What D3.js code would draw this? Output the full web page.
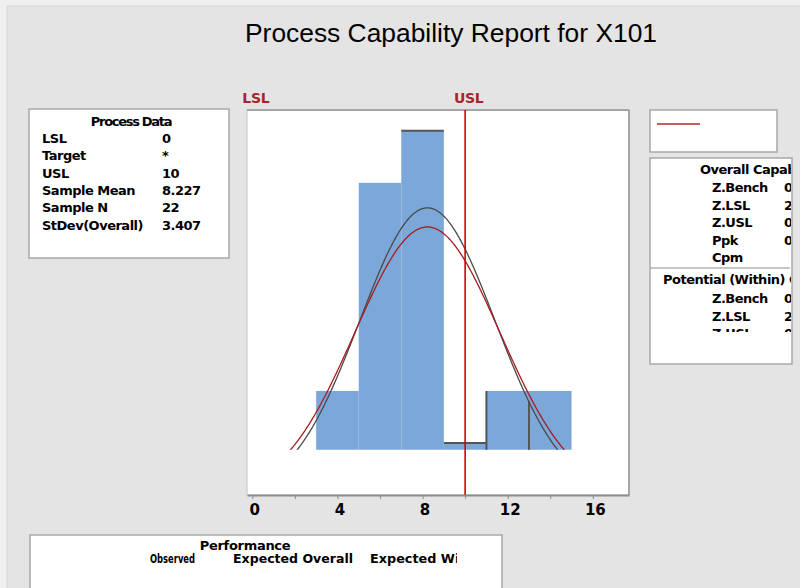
<!DOCTYPE html>
<html>
<head>
<meta charset="utf-8">
<script src="https://cdn.jsdelivr.net/npm/d3@7"></script>
<style>
body { margin: 0; background: #e4e4e4; }
text { font-family: "DejaVu Sans", sans-serif; font-weight: bold; fill: #000; }
text.title { font-family: "Liberation Sans", Arial, sans-serif; font-weight: normal; }
</style>
</head>
<body>
<div class="chart"></div>
<script>
// process data
var lsl = 0, usl = 10;
var sampleMean = 8.227, sampleN = 22, stdevOverall = 3.407, stdevWithin = 3.18;

// histogram
var binEdges = [3, 5, 7, 9, 11, 13, 15];
var binCounts = [2, 6, 7, 1, 2, 2];
var xTicks = [0, 2, 4, 6, 8, 10, 12, 14, 16];
var xLabels = [0, 4, 8, 12, 16];

// tables
var processLabels = ["LSL", "Target", "USL", "Sample Mean", "Sample N", "StDev(Overall)"];
var processValues = ["0", "*", "10", "8.227", "22", "3.407"];
var overallLabels = ["Z.Bench", "Z.LSL", "Z.USL", "Ppk", "Cpm"];
var overallValues = ["0.50", "2.41", "0.52", "0.17", "*"];
var withinLabels = ["Z.Bench", "Z.LSL", "Z.USL", "Cpk"];
var withinValues = ["0.55", "2.59", "0.56", "0.19"];
var perfHeaders = ["Observed", "Expected Overall", "Expected Within"];

var W = 800, H = 588;
var svg = d3.select("div.chart").append("svg")
	.attr("width", W)
	.attr("height", H);

var defs = svg.append("defs");

// background
svg.append("rect").attr("width", W).attr("height", H).attr("fill", "#efefef");
svg.append("rect").attr("x", 7).attr("y", 6).attr("width", W).attr("height", H)
	.attr("fill", "#e4e4e4").attr("stroke", "#d6d6d6");

// title
svg.append("text")
	.attr("class", "title")
	.attr("x", 451).attr("y", 42)
	.attr("text-anchor", "middle")
	.attr("font-size", 26)
	.attr("textLength", 412)
	.attr("lengthAdjust", "spacingAndGlyphs")
	.text("Process Capability Report for X101");

// plot frame
var px0 = 247, px1 = 629, py0 = 110, py1 = 495;
svg.append("rect")
	.attr("x", px0).attr("y", py0)
	.attr("width", px1 - px0).attr("height", py1 - py0)
	.attr("fill", "#fff").attr("stroke", "#c4c4c4");
svg.append("line").attr("x1", px0).attr("x2", px1).attr("y1", py0).attr("y2", py0)
	.attr("stroke", "#a6a6a6").attr("stroke-width", 2);
svg.append("line").attr("x1", px1).attr("x2", px1).attr("y1", py0).attr("y2", py1)
	.attr("stroke", "#a6a6a6").attr("stroke-width", 2);

var x = d3.scaleLinear().domain([-0.25, 17.7]).range([px0, px1]);
var y = d3.scaleLinear().domain([0, 7.4]).range([py1, py0]);

// histogram and fits are cut off above the axis
var floorCount = 0.87;
defs.append("clipPath").attr("id", "histClip")
	.append("rect")
	.attr("x", px0).attr("y", py0)
	.attr("width", px1 - px0).attr("height", y(floorCount) - py0);

var hist = svg.append("g").attr("clip-path", "url(#histClip)");

var bins = binCounts.map(function(c, i) {
	return { x0: binEdges[i], x1: binEdges[i + 1], count: c };
});

hist.selectAll("rect.bar")
	.data(bins)
	.enter()
	.append("rect")
	.attr("class", "bar")
	.attr("x", function(d) { return x(d.x0); })
	.attr("width", function(d) { return x(d.x1) - x(d.x0); })
	.attr("y", function(d) { return y(d.count); })
	.attr("height", function(d) { return y(0) - y(d.count); })
	.attr("fill", "#7ca7d9");

// dark outline pieces
var outlineTops = [2, 3];
var outlineLefts = [4, 5];
hist.selectAll("line.top")
	.data(outlineTops)
	.enter()
	.append("line")
	.attr("x1", function(i) { return x(bins[i].x0); })
	.attr("x2", function(i) { return x(bins[i].x1); })
	.attr("y1", function(i) { return y(bins[i].count); })
	.attr("y2", function(i) { return y(bins[i].count); })
	.attr("stroke", "#555").attr("stroke-width", 2);
hist.selectAll("line.left")
	.data(outlineLefts)
	.enter()
	.append("line")
	.attr("x1", function(i) { return x(bins[i].x0); })
	.attr("x2", function(i) { return x(bins[i].x0); })
	.attr("y1", function(i) { return y(Math.min(bins[i].count, bins[i - 1].count) > 1 ? 1.8 : bins[i].count); })
	.attr("y2", y(0))
	.attr("stroke", "#555").attr("stroke-width", 2);

// fitted normal curves (expected counts per bin)
var binW = binEdges[1] - binEdges[0];
function normalCurve(sd) {
	return d3.range(0, 17.01, 0.05).map(function(v) {
		var z = (v - sampleMean) / sd;
		return [v, sampleN * binW * Math.exp(-0.5 * z * z) / (sd * Math.sqrt(2 * Math.PI))];
	});
}
var line = d3.line()
	.x(function(d) { return x(d[0]); })
	.y(function(d) { return y(d[1]); });

hist.append("path")
	.datum(normalCurve(stdevWithin))
	.attr("d", line)
	.attr("fill", "none")
	.attr("stroke", "#4a4a4a")
	.attr("stroke-width", 1.3);
hist.append("path")
	.datum(normalCurve(stdevOverall))
	.attr("d", line)
	.attr("fill", "none")
	.attr("stroke", "#a81c1c")
	.attr("stroke-width", 1.3);

// USL reference line
svg.append("line")
	.attr("x1", x(usl)).attr("x2", x(usl))
	.attr("y1", py0).attr("y2", py1)
	.attr("stroke", "#d40000").attr("stroke-width", 1.6);

// spec labels
svg.selectAll("text.spec")
	.data([["LSL", lsl], ["USL", usl]])
	.enter()
	.append("text")
	.attr("class", "spec")
	.attr("x", function(d) { return x(d[1]) + 3.5; })
	.attr("y", 103)
	.attr("text-anchor", "middle")
	.attr("font-size", 14)
	.attr("letter-spacing", -0.3)
	.style("fill", "#a8262a")
	.text(function(d) { return d[0]; });

// x axis
var axis = d3.axisBottom(x)
	.tickValues(xTicks)
	.tickSize(4)
	.tickPadding(5)
	.tickSizeOuter(0)
	.tickFormat(function(d) { return xLabels.indexOf(d) >= 0 ? d : ""; });
var ax = svg.append("g")
	.attr("transform", "translate(0," + py1 + ")")
	.call(axis);
ax.select(".domain").attr("stroke", "#8c8c8c").attr("stroke-width", 2);
ax.selectAll(".tick line").attr("stroke", "#8c8c8c");
ax.selectAll(".tick text")
	.attr("font-size", 15)
	.attr("font-family", "DejaVu Sans, sans-serif")
	.attr("font-weight", "bold")
	.attr("dx", 2)
	.style("fill", "#000");

// Process Data box
function box(x0, y0, w, h) {
	svg.append("rect")
		.attr("x", x0).attr("y", y0).attr("width", w).attr("height", h)
		.attr("fill", "#fff").attr("stroke", "#a8a8a8").attr("stroke-width", 1.5);
}
box(29, 109, 200, 149);
svg.append("text")
	.attr("x", 131).attr("y", 126)
	.attr("text-anchor", "middle")
	.attr("font-size", 13)
	.attr("letter-spacing", -1.3)
	.text("Process Data");
var pRows = svg.append("g").attr("font-size", 13).attr("letter-spacing", -0.5);
pRows.selectAll("text.lab")
	.data(processLabels)
	.enter()
	.append("text")
	.attr("x", 42)
	.attr("y", function(d, i) { return 143 + i * 17.3; })
	.text(function(d) { return d; });
pRows.selectAll("text.val")
	.data(processValues)
	.enter()
	.append("text")
	.attr("x", 162)
	.attr("y", function(d, i) { return 143 + i * 17.3; })
	.text(function(d) { return d; });

// legend box
box(650, 110, 127, 42);
svg.append("line")
	.attr("x1", 657).attr("x2", 700).attr("y1", 124).attr("y2", 124)
	.attr("stroke", "#b02a2a").attr("stroke-width", 1.6);

// capability box (cut off at the right)
box(650, 158, 142, 206);
defs.append("clipPath").attr("id", "capClip")
	.append("rect").attr("x", 650).attr("y", 158).attr("width", 141).attr("height", 174);
var cap = svg.append("g")
	.attr("clip-path", "url(#capClip)")
	.attr("font-size", 13)
	.attr("letter-spacing", -0.5);
cap.append("text").attr("x", 700).attr("y", 174).text("Overall Capability");
cap.selectAll("text.olab")
	.data(overallLabels)
	.enter()
	.append("text")
	.attr("x", 712)
	.attr("y", function(d, i) { return 192 + i * 17.5; })
	.text(function(d) { return d; });
cap.selectAll("text.oval")
	.data(overallValues)
	.enter()
	.append("text")
	.attr("x", function(d) { return d === "*" ? 800 : 784; })
	.attr("y", function(d, i) { return 192 + i * 17.5; })
	.text(function(d) { return d; });
svg.append("line")
	.attr("x1", 650).attr("x2", 790).attr("y1", 268).attr("y2", 268)
	.attr("stroke", "#b4b4b4").attr("stroke-width", 1.5);
cap.append("text").attr("x", 663).attr("y", 284).text("Potential (Within) Capability");
cap.selectAll("text.wlab")
	.data(withinLabels)
	.enter()
	.append("text")
	.attr("x", 712)
	.attr("y", function(d, i) { return 303 + i * 17.5; })
	.text(function(d) { return d; });
cap.selectAll("text.wval")
	.data(withinValues)
	.enter()
	.append("text")
	.attr("x", 784)
	.attr("y", function(d, i) { return 303 + i * 17.5; })
	.text(function(d) { return d; });

// Performance box (cut off at the bottom)
box(30, 535, 472, 70);
svg.append("text")
	.attr("x", 245).attr("y", 550)
	.attr("text-anchor", "middle")
	.attr("font-size", 13)
	.attr("letter-spacing", -0.3)
	.text("Performance");
defs.append("clipPath").attr("id", "perfClip")
	.append("rect").attr("x", 30).attr("y", 535).attr("width", 427).attr("height", 60);
var perfX = [150, 233, 370], perfW = [45, 120, 118];
svg.append("g")
	.attr("clip-path", "url(#perfClip)")
	.attr("font-size", 13)
	.selectAll("text")
	.data(perfHeaders)
	.enter()
	.append("text")
	.attr("x", function(d, i) { return perfX[i]; })
	.attr("y", 563)
	.attr("textLength", function(d, i) { return perfW[i]; })
	.attr("lengthAdjust", "spacingAndGlyphs")
	.text(function(d) { return d; });
</script>
</body>
</html>
